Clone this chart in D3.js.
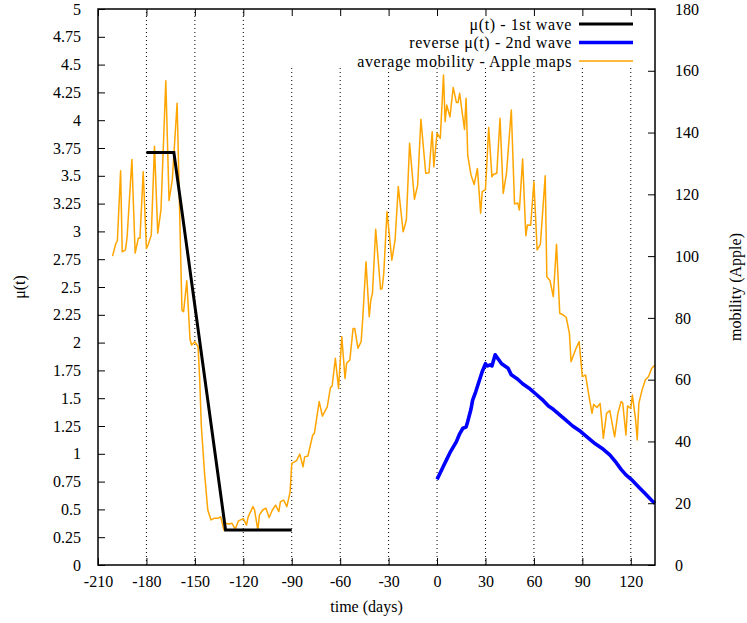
<!DOCTYPE html>
<html><head><meta charset="utf-8">
<script src="https://cdn.jsdelivr.net/npm/d3@7"></script>
<style>body{margin:0;background:#fff}svg{display:block}text{font-family:"Liberation Serif","DejaVu Serif",serif;font-size:16px;fill:#000}</style>
</head><body><svg id="c" width="747" height="623"></svg>
<script>
const xTicks = [-210,-180,-150,-120,-90,-60,-30,0,30,60,90,120];
const xTickLabels = ["-210","-180","-150","-120","-90","-60","-30","0","30","60","90","120"];
const yTicks = [0,0.25,0.5,0.75,1,1.25,1.5,1.75,2,2.25,2.5,2.75,3,3.25,3.5,3.75,4,4.25,4.5,4.75,5];
const yTickLabels = ["0","0.25","0.5","0.75","1","1.25","1.5","1.75","2","2.25","2.5","2.75","3","3.25","3.5","3.75","4","4.25","4.5","4.75","5"];
const y2Ticks = [0,20,40,60,80,100,120,140,160,180];
const seriesNames = ["\u03bc(t) - 1st wave","reverse \u03bc(t) - 2nd wave","average mobility - Apple maps"];

// mu(t) 1st wave
const wave1T = [-180,-163,-131,-90];
const wave1Mu = [3.71,3.71,0.315,0.315];

// reverse mu(t) 2nd wave
const wave2T = [0,2,4,6,8,10,12,14,16,18,19,21,22,24,26,28,30,31,33,34,36,38,40,42,44,46,48,50,53,57,61,65,69,72,76,80,84,89,93,98,103,107,111,114,117,121,125,129,133,135];
const wave2Mu = [0.77,0.83,0.89,0.95,1.01,1.06,1.11,1.18,1.23,1.24,1.29,1.40,1.48,1.56,1.65,1.74,1.81,1.79,1.80,1.79,1.89,1.85,1.81,1.79,1.77,1.71,1.69,1.67,1.63,1.59,1.54,1.49,1.43,1.40,1.35,1.30,1.25,1.20,1.15,1.09,1.04,0.99,0.92,0.86,0.81,0.76,0.70,0.64,0.58,0.555];

// average mobility (Apple maps), right axis
const mobT = [-201,-199,-198,-196,-195,-193,-192,-189,-187,-185,-184,-182,-180,-179,-177,-175,-173,-171,-168,-166,-164,-161,-158,-157,-155,-153,-152,-150,-148,-147,-146,-144,-142,-140,-138,-136,-134,-132,-131,-129,-127,-125,-123,-120,-118,-117,-114,-113,-111,-110,-108,-106,-104,-102,-100,-98,-97,-95,-93,-91,-90,-87,-85,-83,-82,-80,-77,-76,-73,-71,-68,-66,-65,-63,-61,-59,-57,-56,-54,-52,-51,-49,-47,-46,-44,-42,-41,-40,-38,-35,-34,-33,-31,-28,-26,-24,-21,-19,-17,-14,-12,-10,-7,-5,-3,-2,0,2,4,5,6,8,10,12,13,14,17,18,19,21,23,25,27,28,30,32,34,35,37,39,41,43,46,48,50,51,53,55,56,58,60,62,64,67,68,70,72,74,76,78,80,82,83,86,88,90,92,94,96,97,99,101,102,103,105,107,110,112,114,115,117,118,120,121,123,124,125,127,129,131,133,135];
const mobV = [100,104,105,127.6,101.4,102,106,131.3,101,105.8,105.8,127.3,102.5,103.6,106.8,135.6,107.4,115,156.8,118,124.6,149.5,82.5,82,92,73,71.2,72.3,70.7,60,45,29.7,17.8,14.6,15.1,15.1,15.6,11.3,13.5,13.3,13.5,11.6,14.3,15,12.9,15.6,18.9,17.8,11.3,16.2,17.8,18.4,15.4,17.8,19.4,17.3,20.5,21,18.9,23.7,32.9,33.8,35.9,31.8,35,35.3,42.1,42.6,52.9,48.2,51.2,57.5,57.8,66.9,57.2,73.9,60.4,65.3,66.4,76.6,76.6,70.2,72.3,80,98.2,80.4,85.8,88,108.7,89.3,89.5,94.4,114.4,98.7,105.2,122.5,107.9,111.7,136.5,118.4,123,144.3,126.8,127,140.3,128.9,139.8,138.1,158.6,143.5,148.9,145.1,154.6,149.7,149.7,152.7,141,151.1,132.7,126.3,123.2,128.4,113.9,120.9,121.5,141.6,125.7,126.5,126.8,144.6,120.3,126.8,147.3,116.9,117.2,114.9,131.4,106.6,110.1,110,124.1,102,103.8,126,93.3,92,86.9,103.8,81.5,81,80.2,75,65.8,70,72.3,61,61.5,55,49.1,52,51,52.3,47,41,49.1,50,41.5,49.1,52.9,52.5,42.1,51.5,50.7,55,47,40.5,52.3,56.7,59.9,61,63.7,64.7];

const L = 98, R = 655, T = 9, B = 565;
const svg = d3.select("#c");
const x = d3.scaleLinear().domain([-210,135]).range([L,R]);
const y = d3.scaleLinear().domain([0,5]).range([B,T]);
const y2 = d3.scaleLinear().domain([0,180]).range([B,T]);

// grid
const keyBottom = 68, keyLeft = 255;
svg.append("g").selectAll("line").data(xTicks.filter(d => d > -210)).join("line")
  .attr("x1", d => x(d)).attr("x2", d => x(d))
  .attr("y1", B).attr("y2", d => x(d) > keyLeft ? keyBottom : T)
  .attr("stroke", "#000").attr("stroke-width", 1).attr("stroke-dasharray", "1,3");

// data
const line = d3.line();
svg.append("path").datum(mobT.map((t,i) => [x(t), y2(mobV[i])]))
  .attr("d", line).attr("fill","none").attr("stroke","#ffa500").attr("stroke-width",1.5).attr("stroke-linejoin","round");
svg.append("path").datum(wave1T.map((t,i) => [x(t), y(wave1Mu[i])]))
  .attr("d", line).attr("fill","none").attr("stroke","#000").attr("stroke-width",3);
svg.append("path").datum(wave2T.map((t,i) => [x(t), y(wave2Mu[i])]))
  .attr("d", line).attr("fill","none").attr("stroke","#0000ff").attr("stroke-width",3.6).attr("stroke-linejoin","round");

// axes
const gx = svg.append("g").attr("transform", `translate(0,${B})`)
  .call(d3.axisBottom(x).tickValues(xTicks).tickSize(-7).tickPadding(14).tickFormat((d,i) => xTickLabels[i]));
const gxt = svg.append("g").attr("transform", `translate(0,${T})`)
  .call(d3.axisTop(x).tickValues(xTicks).tickSize(-7).tickFormat(""));
const gy = svg.append("g").attr("transform", `translate(${L},0)`)
  .call(d3.axisLeft(y).tickValues(yTicks).tickSize(-7).tickPadding(17).tickFormat((d,i) => yTickLabels[i]));
const gy2 = svg.append("g").attr("transform", `translate(${R},0)`)
  .call(d3.axisRight(y2).tickValues(y2Ticks).tickSize(-7).tickPadding(20).tickFormat(d => String(d)));
[gx,gxt,gy,gy2].forEach(g => {
  g.select(".domain").remove();
  g.selectAll("line").attr("stroke","#000").attr("stroke-width",1);
  g.selectAll("text").attr("font-family",null).attr("font-size",null).style("font-size","16px").style("font-family",'"Liberation Serif",serif');
});
gx.selectAll("text").attr("dy","0.5em");
svg.append("rect").attr("x",L).attr("y",T).attr("width",R-L).attr("height",B-T)
  .attr("fill","none").attr("stroke","#000").attr("stroke-width",1.5);

// labels
svg.append("text").attr("x", (L+R)/2 - 10).attr("y", 612).attr("text-anchor","middle").text("time (days)");
svg.append("text").attr("transform", `translate(25,${(T+B)/2}) rotate(-90)`).attr("text-anchor","middle").text("\u03bc(t)");
svg.append("text").attr("transform", `translate(741,${(T+B)/2}) rotate(-90)`).attr("text-anchor","middle").text("mobility (Apple)");

// legend
const colors = ["#000","#0000ff","#ffa500"];
const widths = [3,3.6,1.5];
const legY = [24,42.5,61];
seriesNames.forEach((n,i) => {
  svg.append("text").attr("x",572).attr("y",legY[i]).attr("dy","0.35em").attr("text-anchor","end")
    .style("letter-spacing","0.6px").text(n);
  svg.append("line").attr("x1",579).attr("x2",633).attr("y1",legY[i]).attr("y2",legY[i])
    .attr("stroke",colors[i]).attr("stroke-width",widths[i]);
});
</script></body></html>
